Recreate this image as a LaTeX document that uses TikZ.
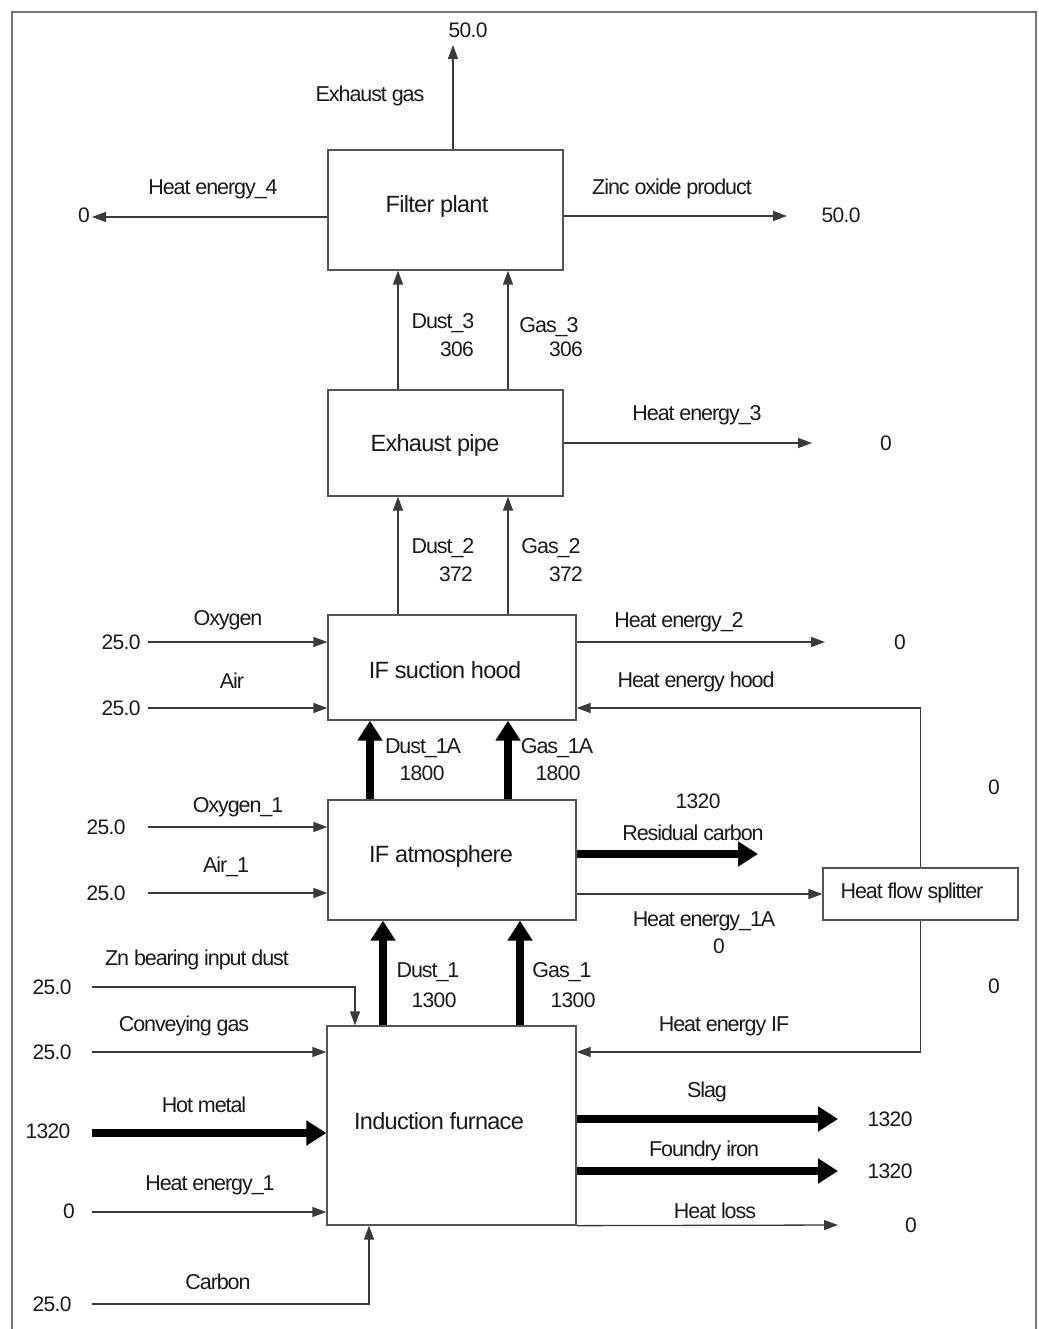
\documentclass[tikz,border=0pt]{standalone}
\usepackage{fontspec}
\setmainfont{Liberation Sans}
\newfontfamily\lblfont[LetterSpace=-5]{Liberation Sans}
\newfontfamily\valfont[LetterSpace=-3]{Liberation Sans}
\newfontfamily\ttlfont[LetterSpace=-3]{Liberation Sans}
\usetikzlibrary{arrows.meta}
\definecolor{ln}{HTML}{3A3A3A}
\definecolor{boxgray}{HTML}{555555}
\definecolor{framegray}{HTML}{777777}
\definecolor{txt}{HTML}{1A1A1A}
\begin{document}
\begin{tikzpicture}[x=1pt,y=-1pt,
  box/.style={draw=boxgray, line width=1.3pt, inner sep=0pt, fill=white},
  lbl/.style={text=txt, font=\lblfont\fontsize{21.5}{25}\selectfont, inner sep=0pt},
  val/.style={text=txt, font=\valfont\fontsize{21}{25}\selectfont, inner sep=0pt},
  ttl/.style={text=txt, font=\ttlfont\fontsize{23.5}{28}\selectfont, inner sep=0pt},
  thinarrow/.style={draw=ln, line width=1.3pt, -{Triangle[length=14pt,width=10pt]}},
  thickarrow/.style={draw=black, line width=8pt, -{Triangle[length=20pt,width=24pt]}},
  plainline/.style={draw=ln, line width=1.3pt},
  framestyle/.style={draw=framegray, line width=1.6pt}]
\useasboundingbox (0,0) rectangle (1038,1329);
\fill[white] (0,0) rectangle (1038,1329);
\draw[framestyle] (12,1340) -- (12,12) -- (1036,12) -- (1036,1340);

% boxes
\node[box, minimum width=235pt, minimum height=120pt] (fp) at (445.5,210) {};
\node[box, minimum width=235pt, minimum height=106pt] (ep) at (445.5,443) {};
\node[box, minimum width=248pt, minimum height=105pt] (sh) at (452,667.5) {};
\node[box, minimum width=248pt, minimum height=120pt] (ia) at (452,860) {};
\node[box, minimum width=195pt, minimum height=52pt] (hs) at (920.5,894) {};
\node[box, minimum width=249pt, minimum height=199pt] (fu) at (451.5,1125.5) {};

% titles
\node[ttl] (tfp) at (437,206) {Filter plant};
\node[ttl] (tep) at (435,445) {Exhaust pipe};
\node[ttl] (tsh) at (445,670) {IF suction hood};
\node[ttl] (tia) at (441,856) {IF atmosphere};
\node[lbl] (ths) at (912,893) {Heat flow splitter};
\node[ttl] (tfu) at (439,1121) {Induction furnace};

% x guides
\coordinate (xa) at (398,0);
\coordinate (xb) at (508,0);
\coordinate (xc) at (370,0);
\coordinate (xd) at (508,0);
\coordinate (xe) at (383,0);
\coordinate (xf) at (520,0);
\coordinate (xz) at (355,0);
\coordinate (xcarb) at (369,0);
\coordinate (hoodY) at (0,708);
\coordinate (ifY) at (0,1052);

% free ends
\coordinate (egE) at (453,45);
\coordinate (h4E) at (92,217);
\coordinate (zoE) at (787,216);
\coordinate (h3E) at (812,443);
\coordinate (oxS) at (148,642);
\coordinate (airS) at (148,708);
\coordinate (h2E) at (825,642);
\coordinate (ox1S) at (148,827);
\coordinate (air1S) at (148,893);
\coordinate (rcE) at (758,854);
\coordinate (znS) at (92,987);
\coordinate (cgS) at (92,1052);
\coordinate (hmS) at (92,1133);
\coordinate (h1S) at (92,1212);
\coordinate (caS) at (92,1304);
\coordinate (slE) at (838,1119);
\coordinate (fiE) at (838,1171);
\coordinate (hlE) at (838,1225);

% filter plant
\draw[thinarrow] (fp.north -| egE) -- (egE);
\draw[thinarrow] (fp.west |- h4E) -- (h4E);
\draw[thinarrow] (fp.east |- zoE) -- (zoE);
\node[lbl] (lEG) at (370,96) {Exhaust gas};
\node[val] (vEG) at (468,30) {50.0};
\node[lbl] (lH4) at (213,189) {Heat energy\_4};
\node[val] (vH4) at (84,215) {0};
\node[lbl] (lZO) at (672,189) {Zinc oxide product};
\node[val] (vZO) at (841,215) {50.0};

% exhaust pipe to filter
\draw[thinarrow] (ep.north -| xa) -- (fp.south -| xa);
\draw[thinarrow] (ep.north -| xb) -- (fp.south -| xb);
\node[lbl] (lD3) at (443,323) {Dust\_3};
\node[val] (vD3) at (457,349) {306};
\node[lbl] (lG3) at (549,327) {Gas\_3};
\node[val] (vG3) at (566,349) {306};
\draw[thinarrow] (ep.east |- h3E) -- (h3E);
\node[lbl] (lH3) at (697,415) {Heat energy\_3};
\node[val] (vH3) at (886,443) {0};

% hood to pipe
\draw[thinarrow] (sh.north -| xa) -- (ep.south -| xa);
\draw[thinarrow] (sh.north -| xb) -- (ep.south -| xb);
\node[lbl] (lD2) at (443,548) {Dust\_2};
\node[val] (vD2) at (456,574) {372};
\node[lbl] (lG2) at (551,548) {Gas\_2};
\node[val] (vG2) at (566,574) {372};

% hood inputs/outputs
\draw[thinarrow] (oxS) -- (sh.west |- oxS);
\draw[thinarrow] (airS) -- (sh.west |- airS);
\node[val] (vOx) at (121,642) {25.0};
\node[lbl] (lOx) at (228,620) {Oxygen};
\node[val] (vAir) at (121,708) {25.0};
\node[lbl] (lAir) at (232,681) {Air};
\draw[thinarrow] (sh.east |- h2E) -- (h2E);
\node[lbl] (lH2) at (679,622) {Heat energy\_2};
\node[val] (vH2) at (900,642) {0};
\draw[thinarrow] (hs.north) -- (hs.north |- hoodY) -- (sh.east |- hoodY);
\node[lbl] (lHH) at (696,682) {Heat energy hood};
\node[val] (vHH) at (994,787) {0};

% atmosphere to hood
\draw[thickarrow] (ia.north -| xc) -- (sh.south -| xc);
\draw[thickarrow] (ia.north -| xd) -- (sh.south -| xd);
\node[lbl] (lD1A) at (423,748) {Dust\_1A};
\node[val] (vD1A) at (422,773) {1800};
\node[lbl] (lG1A) at (557,748) {Gas\_1A};
\node[val] (vG1A) at (558,773) {1800};

% atmosphere inputs/outputs
\draw[thinarrow] (ox1S) -- (ia.west |- ox1S);
\draw[thinarrow] (air1S) -- (ia.west |- air1S);
\node[val] (vOx1) at (106,827) {25.0};
\node[lbl] (lOx1) at (238,807) {Oxygen\_1};
\node[val] (vAir1) at (106,893) {25.0};
\node[lbl] (lAir1) at (226,867) {Air\_1};
\draw[thickarrow] (ia.east |- rcE) -- (rcE);
\node[val] (vRC) at (698,801) {1320};
\node[lbl] (lRC) at (693,833) {Residual carbon};
\draw[thinarrow] (ia.east |- hs.west) -- (hs.west);
\node[lbl] (lH1A) at (704,921) {Heat energy\_1A};
\node[val] (vH1A) at (719,946) {0};
\draw[thinarrow] (hs.south) -- (hs.south |- ifY) -- (fu.east |- ifY);
\node[lbl] (lHIF) at (724,1026) {Heat energy IF};
\node[val] (vHIF) at (994,986) {0};

% furnace to atmosphere
\draw[thickarrow] (fu.north -| xe) -- (ia.south -| xe);
\draw[thickarrow] (fu.north -| xf) -- (ia.south -| xf);
\node[lbl] (lD1) at (428,972) {Dust\_1};
\node[val] (vD1) at (434,1000) {1300};
\node[lbl] (lG1) at (562,972) {Gas\_1};
\node[val] (vG1) at (573,1000) {1300};

% furnace inputs
\draw[thinarrow] (znS) -- (znS -| xz) -- (fu.north -| xz);
\node[val] (vZn) at (52,987) {25.0};
\node[lbl] (lZn) at (197,960) {Zn bearing input dust};
\draw[thinarrow] (cgS) -- (fu.west |- cgS);
\node[val] (vCG) at (52,1052) {25.0};
\node[lbl] (lCG) at (184,1026) {Conveying gas};
\draw[thickarrow] (hmS) -- (fu.west |- hmS);
\node[val] (vHM) at (48,1131) {1320};
\node[lbl] (lHM) at (204,1105) {Hot metal};
\draw[thinarrow] (h1S) -- (fu.west |- h1S);
\node[val] (vH1) at (69,1211) {0};
\node[lbl] (lH1) at (210,1185) {Heat energy\_1};
\draw[thinarrow] (caS) -- (caS -| xcarb) -- (fu.south -| xcarb);
\node[val] (vCa) at (52,1304) {25.0};
\node[lbl] (lCa) at (218,1282) {Carbon};

% furnace outputs
\draw[thickarrow] (fu.east |- slE) -- (slE);
\node[lbl] (lSl) at (707,1092) {Slag};
\node[val] (vSl) at (890,1119) {1320};
\draw[thickarrow] (fu.east |- fiE) -- (fiE);
\node[lbl] (lFI) at (704,1151) {Foundry iron};
\node[val] (vFI) at (890,1171) {1320};
\draw[thinarrow] (fu.south east) -- (hlE);
\node[lbl] (lHL) at (715,1211) {Heat loss};
\node[val] (vHL) at (911,1225) {0};
\end{tikzpicture}
\end{document}
